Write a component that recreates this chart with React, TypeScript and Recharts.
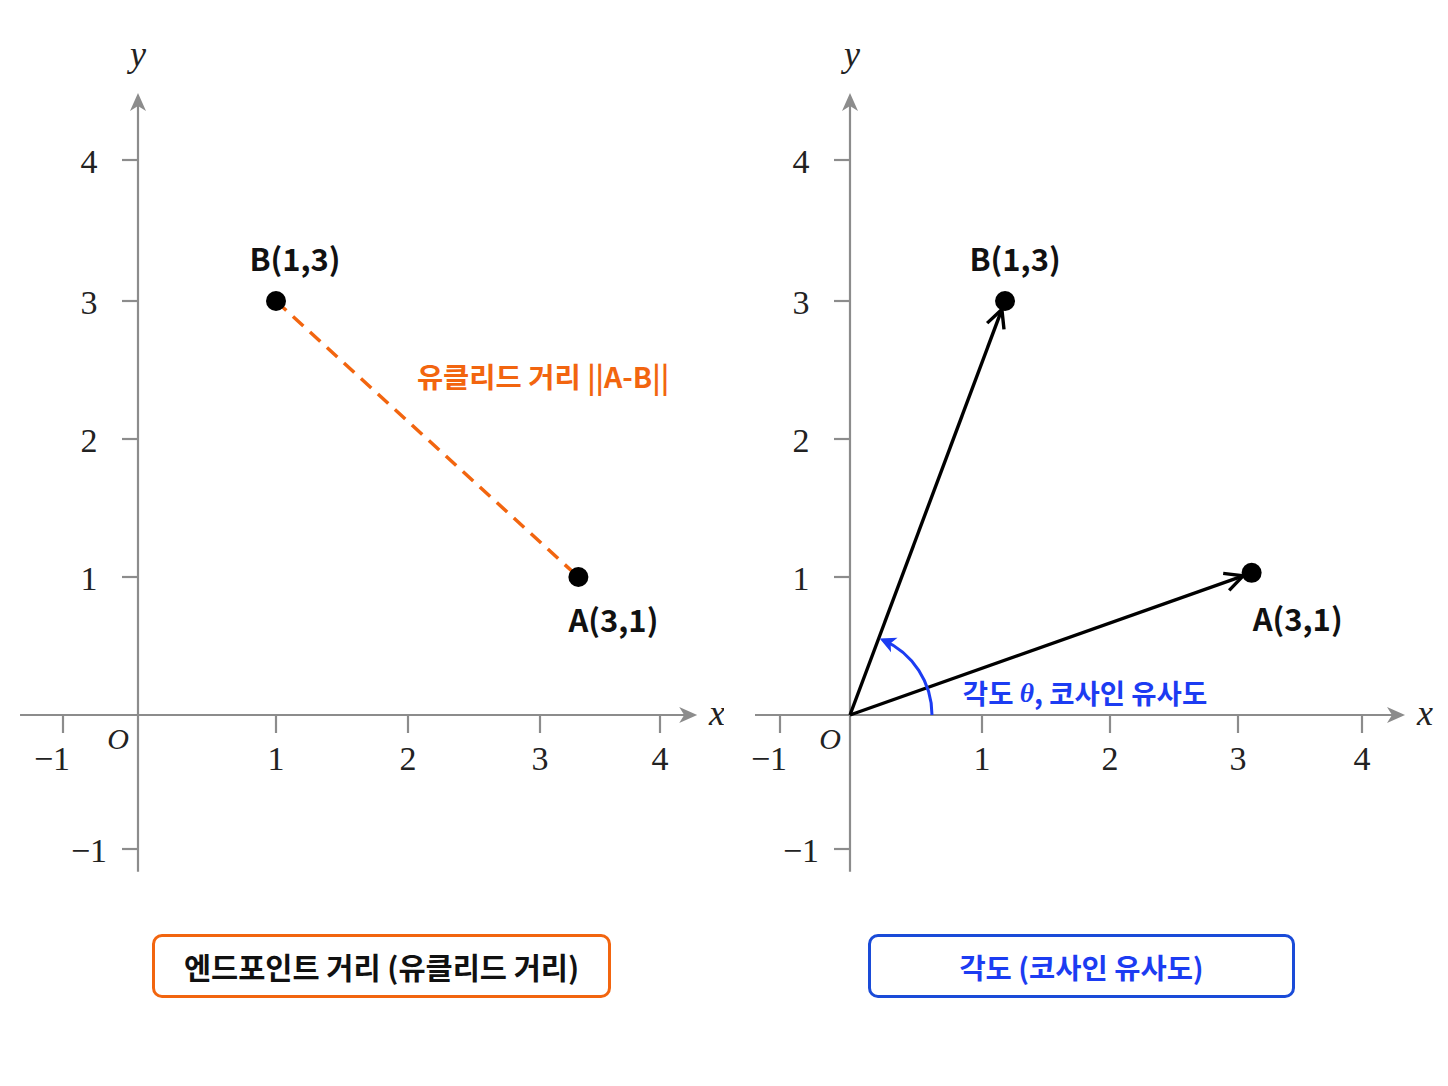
import React from "react";
import { ScatterChart, Scatter, XAxis, YAxis, ReferenceLine } from "recharts";

// tick values shown on both panels
const xTickValues = [-1, 0, 1, 2, 3, 4];
const yTickValues = [-1, 0, 1, 2, 3, 4];

// points as placed in the picture
const leftPoints = [
  { name: "B", label: "B(1,3)", x: 1, y: 3 },
  { name: "A", label: "A(3,1)", x: 3.32, y: 1 },
];
const rightPoints = [
  { name: "B", label: "B(1,3)", x: 1.18, y: 3 },
  { name: "A", label: "A(3,1)", x: 3.11, y: 1.03 },
];

const distanceLabel = "유클리드 거리 ||A-B||";
const angleLabelParts = ["각도 ", "θ", ", 코사인 유사도"];
const boxLabels = ["엔드포인트 거리 (유클리드 거리)", "각도 (코사인 유사도)"];

const SANS = "'Noto Sans CJK KR', 'Noto Sans', sans-serif";
const SERIF = "'Liberation Serif', 'DejaVu Serif', serif";
const AXIS_COLOR = "#8c8c8c";
const ORANGE = "#f2650f";
const BLUE = "#1c3cf2";
const BOX_BLUE = "#1a4bd8";

const W = 724;
const H = 1086;

// the drawn axes are not evenly spaced, so each panel gets a piecewise scale
// (pixel positions of the ticks inside each 724px panel)
const leftXPixels = [63, 138, 276, 408, 540, 660];
const rightXPixels = [56, 126, 258, 386, 514, 638];
const yPixels = [849, 715, 577, 439, 301, 160];

const labelOffsets: Record<string, Record<string, [number, number]>> = {
  left: { B: [19, -44], A: [35, 41] },
  right: { B: [10, -44], A: [46, 45] },
};

const piecewiseScale = (knots: number[], pixels: number[]) => {
  const n = knots.length;
  const map = (v: number) => {
    let i = 0;
    if (v >= knots[n - 1]) i = n - 2;
    else if (v > knots[0]) while (i < n - 2 && v > knots[i + 1]) i++;
    const t = (v - knots[i]) / (knots[i + 1] - knots[i]);
    return pixels[i] + t * (pixels[i + 1] - pixels[i]);
  };
  const invert = (p: number) => {
    const inc = pixels[n - 1] > pixels[0];
    let i = 0;
    while (i < n - 2 && (inc ? p > pixels[i + 1] : p < pixels[i + 1])) i++;
    const t = (p - pixels[i]) / (pixels[i + 1] - pixels[i]);
    return knots[i] + t * (knots[i + 1] - knots[i]);
  };
  const create = (): any => {
    let dom: number[] = [knots[0], knots[n - 1]];
    let rng: number[] = [pixels[0], pixels[n - 1]];
    const s: any = (v: number) => map(v);
    s.domain = (d?: number[]) => {
      if (d === undefined) return dom;
      dom = d;
      return s;
    };
    s.range = (r?: number[]) => {
      if (r === undefined) return rng;
      rng = r;
      return s;
    };
    s.copy = () => create();
    s.invert = invert;
    s.ticks = () => knots;
    s.tickFormat = () => (v: number) => String(v);
    s.clamp = () => s;
    s.nice = () => s;
    return s;
  };
  return create();
};

const AxisArrow = (p: any) => {
  const { x1, y1, x2, y2 } = p;
  const ang = Math.atan2(y2 - y1, x2 - x1);
  const rot = (ang * 180) / Math.PI;
  return (
    <g>
      <line x1={x1} y1={y1} x2={x2 - 8 * Math.cos(ang)} y2={y2 - 8 * Math.sin(ang)} stroke={AXIS_COLOR} strokeWidth={2.2} />
      <path d="M0,0 L-18,-8 L-13,0 L-18,8 Z" fill={AXIS_COLOR} transform={`translate(${x2},${y2}) rotate(${rot})`} />
    </g>
  );
};

const VectorArrow = (p: any) => {
  const { x1, y1, x2, y2 } = p;
  const ang = Math.atan2(y2 - y1, x2 - x1);
  const rot = (ang * 180) / Math.PI;
  const tx = x2 - 9 * Math.cos(ang);
  const ty = y2 - 9 * Math.sin(ang);
  return (
    <g>
      <line x1={x1} y1={y1} x2={tx} y2={ty} stroke="#000" strokeWidth={3.4} />
      <path
        d="M-18,-9 L0,0 L-18,9"
        fill="none"
        stroke="#000"
        strokeWidth={3.4}
        transform={`translate(${tx},${ty}) rotate(${rot})`}
      />
    </g>
  );
};

const AngleArc = (p: any) => {
  const { x1, y1, x2, y2 } = p;
  const r = 82;
  const phi = Math.atan2(y1 - y2, x2 - x1);
  const end = phi - 0.06;
  const ex = x1 + r * Math.cos(end);
  const ey = y1 - r * Math.sin(end);
  const tan = (Math.atan2(-Math.cos(end), -Math.sin(end)) * 180) / Math.PI;
  return (
    <g>
      <path d={`M${x1 + r},${y1} A${r},${r} 0 0 0 ${ex},${ey}`} fill="none" stroke={BLUE} strokeWidth={3} />
      <path d="M4,0 L-12,-8 L-8,0 L-12,8 Z" fill={BLUE} transform={`translate(${ex},${ey}) rotate(${tan})`} />
    </g>
  );
};

const fmt = (v: number) => (v < 0 ? `−${Math.abs(v)}` : String(v));

const XTick = (p: any) => {
  const { cx, cy, payload } = p;
  if (payload.x === 0) return <g />;
  return (
    <g>
      <line x1={cx} y1={cy} x2={cx} y2={cy + 18} stroke={AXIS_COLOR} strokeWidth={2.2} />
      <text x={cx + (payload.x < 0 ? -11 : 0)} y={cy + 55} textAnchor="middle" fontFamily={SERIF} fontSize={34} fill="#222">
        {fmt(payload.x)}
      </text>
    </g>
  );
};

const YTick = (p: any) => {
  const { cx, cy, payload } = p;
  if (payload.y === 0) return <g />;
  return (
    <g>
      <line x1={cx - 16} y1={cy} x2={cx} y2={cy} stroke={AXIS_COLOR} strokeWidth={2.2} />
      <text x={cx - 49} y={cy + 13} textAnchor="middle" fontFamily={SERIF} fontSize={34} fill="#222">
        {fmt(payload.y)}
      </text>
    </g>
  );
};

const makeDot = (side: string) => (p: any) => {
  const { cx, cy, payload } = p;
  const [dx, dy] = labelOffsets[side][payload.name];
  return (
    <g>
      <circle cx={cx} cy={cy} r={10} fill="#000" />
      <text
        x={cx + dx}
        y={cy + dy}
        textAnchor="middle"
        dominantBaseline="central"
        fontFamily={SANS}
        fontWeight={700}
        fontSize={31}
        fill="#111"
      >
        {payload.label}
      </text>
    </g>
  );
};

const ItalicText = (size: number, dy: number) => (p: any) => (
  <text x={p.cx} y={p.cy + dy} textAnchor="middle" fontFamily={SERIF} fontStyle="italic" fontSize={size} fill="#222">
    {p.payload.text}
  </text>
);

const DistanceText = (p: any) => (
  <text
    x={p.cx}
    y={p.cy}
    textAnchor="middle"
    dominantBaseline="central"
    fontFamily={SANS}
    fontWeight={700}
    fontSize={28.5}
    fill={ORANGE}
  >
    {distanceLabel}
  </text>
);

const AngleText = (p: any) => (
  <text
    x={p.cx}
    y={p.cy}
    textAnchor="middle"
    dominantBaseline="central"
    fontFamily={SANS}
    fontWeight={700}
    fontSize={27.5}
    fill={BLUE}
  >
    {angleLabelParts[0]}
    <tspan fontFamily={SERIF} fontStyle="italic" fontWeight={700}>
      {angleLabelParts[1]}
    </tspan>
    {angleLabelParts[2]}
  </text>
);

type PanelProps = {
  side: "left" | "right";
  xPixels: number[];
  xAxisRange: [number, number];
  points: { name: string; label: string; x: number; y: number }[];
  xLabelAt: number;
  yLabelAt: number;
  originAt: number;
};

const Panel = ({ side, xPixels, xAxisRange, points, xLabelAt, yLabelAt, originAt }: PanelProps) => {
  const b = points.find((d) => d.name === "B")!;
  const a = points.find((d) => d.name === "A")!;
  const xTicks = xTickValues.map((v) => ({ x: v, y: 0 }));
  const yTicks = yTickValues.map((v) => ({ x: 0, y: v }));
  const xScale = piecewiseScale(xTickValues, xPixels);
  const yScale = piecewiseScale(yTickValues, yPixels);
  return (
    <ScatterChart width={W} height={H} margin={{ top: 0, right: 0, bottom: 0, left: 0 }}>
      <XAxis type="number" dataKey="x" scale={xScale} domain={[-1.6, 4.6]} allowDataOverflow hide />
      <YAxis type="number" dataKey="y" scale={yScale} domain={[-2.8, 5.2]} allowDataOverflow hide />
      <ReferenceLine
        segment={[{ x: xAxisRange[0], y: 0 }, { x: xAxisRange[1], y: 0 }]}
        shape={AxisArrow}
        ifOverflow="visible"
      />
      <ReferenceLine segment={[{ x: 0, y: -1.17 }, { x: 0, y: 4.475 }]} shape={AxisArrow} ifOverflow="visible" />
      {side === "left" ? (
        <ReferenceLine
          segment={[{ x: b.x, y: b.y }, { x: a.x, y: a.y }]}
          stroke={ORANGE}
          strokeWidth={3.5}
          strokeDasharray="14 9"
          ifOverflow="visible"
        />
      ) : null}
      {side === "right"
        ? points.map((pt) => (
            <ReferenceLine
              key={pt.name}
              segment={[{ x: 0, y: 0 }, { x: pt.x, y: pt.y }]}
              shape={VectorArrow}
              ifOverflow="visible"
            />
          ))
        : null}
      {side === "right" ? (
        <ReferenceLine segment={[{ x: 0, y: 0 }, { x: b.x, y: b.y }]} shape={AngleArc} ifOverflow="visible" />
      ) : null}
      <Scatter data={xTicks} shape={XTick} isAnimationActive={false} />
      <Scatter data={yTicks} shape={YTick} isAnimationActive={false} />
      <Scatter data={[{ x: xLabelAt, y: 0, text: "x" }]} shape={ItalicText(36, 10)} isAnimationActive={false} />
      <Scatter data={[{ x: yLabelAt, y: 4.71, text: "y" }]} shape={ItalicText(36, 6)} isAnimationActive={false} />
      <Scatter data={[{ x: originAt, y: -0.25, text: "O" }]} shape={ItalicText(30, 0)} isAnimationActive={false} />
      {side === "left" ? (
        <Scatter data={[{ x: 3.025, y: 2.457 }]} shape={DistanceText} isAnimationActive={false} />
      ) : (
        <Scatter data={[{ x: 1.805, y: 0.167 }]} shape={AngleText} isAnimationActive={false} />
      )}
      <Scatter data={points} shape={makeDot(side)} isAnimationActive={false} />
    </ScatterChart>
  );
};

const boxStyle = (color: string, textColor: string, left: number, width: number, size: number): React.CSSProperties => ({
  position: "absolute",
  left,
  top: 934,
  width,
  height: 64,
  boxSizing: "border-box",
  border: `3px solid ${color}`,
  borderRadius: 10,
  display: "flex",
  alignItems: "center",
  justifyContent: "center",
  fontFamily: SANS,
  fontWeight: 700,
  fontSize: size,
  color: textColor,
  background: "#fff",
});

export default function App() {
  return (
    <div style={{ position: "absolute", left: 0, top: 0, width: 1448, height: 1086, background: "#fff", overflow: "hidden" }}>
      <div style={{ position: "absolute", left: 0, top: 0 }}>
        <Panel
          side="left"
          xPixels={leftXPixels}
          xAxisRange={[-1.573, 4.31]}
          points={leftPoints}
          xLabelAt={4.475}
          yLabelAt={0}
          originAt={-0.267}
        />
      </div>
      <div style={{ position: "absolute", left: 724, top: 0 }}>
        <Panel
          side="right"
          xPixels={rightXPixels}
          xAxisRange={[-1.357, 4.347]}
          points={rightPoints}
          xLabelAt={4.508}
          yLabelAt={0.015}
          originAt={-0.286}
        />
      </div>
      <div style={boxStyle(ORANGE, "#111", 152, 459, 29.5)}>{boxLabels[0]}</div>
      <div style={boxStyle(BOX_BLUE, BLUE, 868, 427, 28.5)}>{boxLabels[1]}</div>
    </div>
  );
}
